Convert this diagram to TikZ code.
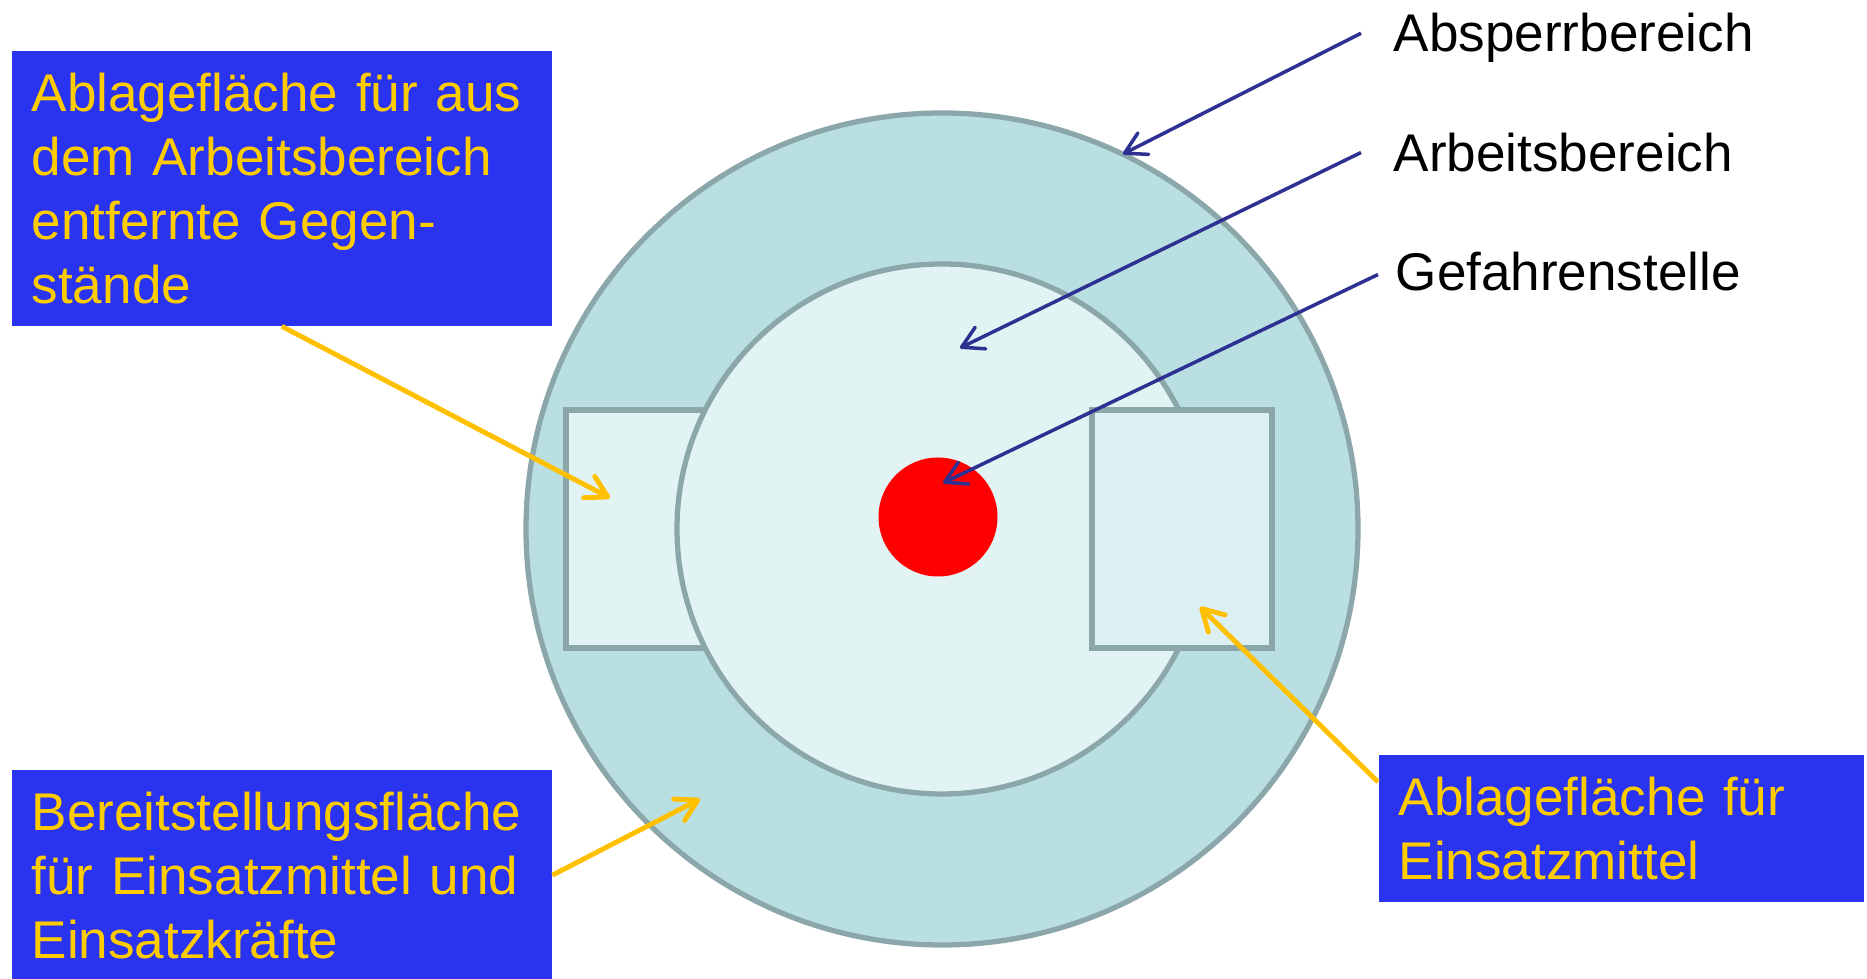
\documentclass[tikz,border=0pt]{standalone}
\usepackage{fontspec}
\setmainfont{Liberation Sans}
\usetikzlibrary{arrows.meta}

\definecolor{ringfill}{HTML}{B9DFE3}
\definecolor{innerfill}{HTML}{E2F3F4}
\definecolor{rectfill}{HTML}{DCEFF3}
\definecolor{zoneline}{HTML}{8BA7AA}
\definecolor{boxblue}{HTML}{2A33F0}
\definecolor{boxtext}{HTML}{FFCC00}
\definecolor{arrownavy}{HTML}{2E3192}
\definecolor{arrowgold}{HTML}{FFC000}

\begin{document}
\begin{tikzpicture}[
    >={Straight Barb[length=2.1mm,width=2.4mm,round]},
    zone/.style={draw=zoneline, line width=1.5pt},
    areaname/.style={font=\fontsize{15.1}{18.2}\selectfont, inner sep=0pt, anchor=base west},
    infobox/.style={fill=boxblue, text=boxtext, font=\fontsize{15.1}{18.2}\selectfont, align=left, anchor=north west, inner xsep=2mm, inner ysep=2.2mm},
    navyarrow/.style={->, draw=arrownavy, line width=1pt},
    goldarrow/.style={->, draw=arrowgold, line width=1.4pt}
]
  \useasboundingbox (0,0) rectangle (18.67,9.79);

  % Zones
  \draw[zone, fill=ringfill] (9.42,4.50) circle (4.16);
  \draw[zone, fill=innerfill] (5.66,3.31) rectangle (7.46,5.69);
  \draw[zone, fill=innerfill] (9.42,4.50) circle (2.65);
  \draw[zone, fill=rectfill] (10.92,3.31) rectangle (12.72,5.69);
  \fill[red] (9.38,4.62) circle (0.595);

  % Annotations on the right
  \node[areaname] (sperr)  at (13.93,9.27)  {Absperrbereich};
  \node[areaname] (arbeit) at (13.93,8.075) {Arbeitsbereich};
  \node[areaname] (gefahr) at (13.95,6.885) {Gefahrenstelle};

  % Blue boxes
  \node[infobox, text width=5cm]    (ablage) at (0.11,9.29)  {Ablagefläche für aus\\dem Arbeitsbereich\\entfernte Gegen-\\stände};
  \node[infobox, text width=5cm]    (bereit) at (0.11,2.10)  {Bereitstellungsfläche\\für Einsatzmittel und\\Einsatzkräfte};
  \node[infobox, text width=4.45cm] (mittel) at (13.78,2.25) {Ablagefläche für\\Einsatzmittel};

  \coordinate (t1) at (11.23,8.25);
  \coordinate (t2) at (9.60,6.31);
  \coordinate (t3) at (9.43,4.96);
  \coordinate (t4) at (6.10,4.81);
  \coordinate (t5) at (7.00,1.80);
  \coordinate (t6) at (12.00,3.72);

  \draw[navyarrow] ([xshift=-3.2mm,yshift=0.5mm]sperr.west) -- (t1);
  \draw[navyarrow] ([xshift=-3.2mm]arbeit.west) -- (t2);
  \draw[navyarrow] ([xshift=-1.7mm,yshift=-0.3mm]gefahr.west) -- (t3);
  \draw[goldarrow] (ablage.south) -- (t4);
  \draw[goldarrow] (bereit.east) -- (t5);
  \draw[goldarrow] ([yshift=-2.8mm]mittel.north west) -- (t6);
\end{tikzpicture}
\end{document}
